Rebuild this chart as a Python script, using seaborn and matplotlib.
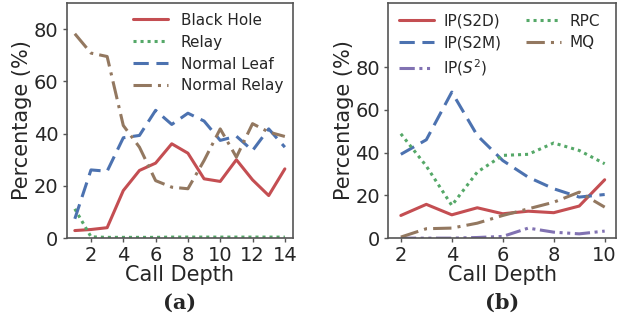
import numpy as np
import pandas as pd
import matplotlib
matplotlib.use("Agg")
import matplotlib.pyplot as plt
import seaborn as sns

# panel (a): share of each node type per call depth
depth_a = [1, 2, 3, 4, 5, 6, 7, 8, 9, 10, 11, 12, 13, 14]
black_hole = [2.9, 3.3, 4.0, 18.2, 25.9, 28.7, 36.1, 32.5, 22.7, 21.7, 30.0, 22.3, 16.3, 26.5]
relay = [11.2, 0.5, 0.3, 0.3, 0.3, 0.3, 0.4, 0.4, 0.4, 0.4, 0.4, 0.4, 0.4, 0.4]
normal_leaf = [7.4, 26.1, 25.6, 38.4, 39.3, 48.9, 43.5, 47.8, 44.8, 37.4, 39.0, 33.5, 41.8, 34.8]
normal_relay = [78.2, 70.8, 69.5, 43.1, 34.8, 22.0, 19.5, 18.9, 29.7, 41.8, 31.0, 43.8, 40.6, 38.9]

# panel (b): communication type per call depth
depth_b = [2, 3, 4, 5, 6, 7, 8, 9, 10]
ip_s2d = [10.6, 15.8, 10.9, 14.2, 11.4, 12.6, 11.9, 15.0, 27.3]
ip_s2m = [39.2, 46.0, 68.3, 48.0, 36.3, 28.5, 23.1, 19.2, 20.4]
ip_s2 = [0.0, 0.0, 0.0, 0.3, 0.8, 4.7, 2.8, 2.0, 3.3]
rpc = [48.8, 33.7, 15.3, 30.9, 38.7, 39.2, 44.5, 41.0, 34.8]
mq = [0.5, 4.4, 4.7, 7.0, 10.6, 13.7, 16.8, 21.5, 14.5]

sns.set_style("ticks")
plt.rcParams["font.family"] = ["DejaVu Sans"]

red, green, blue, purple, brown = "#C44E52", "#55A868", "#4C72B0", "#8172B2", "#937860"
lw = 2.2

fig = plt.figure(figsize=(6.18, 3.24), dpi=100)
ax1 = fig.add_axes([0.108, 0.265, 0.366, 0.726])
ax2 = fig.add_axes([0.628, 0.265, 0.369, 0.726])

sns.lineplot(x=depth_a, y=black_hole, ax=ax1, color=red, lw=lw, label="Black Hole")
sns.lineplot(x=depth_a, y=relay, ax=ax1, color=green, lw=lw, ls=(0, (1, 1.3)), label="Relay")
sns.lineplot(x=depth_a, y=normal_leaf, ax=ax1, color=blue, lw=lw, ls=(0, (5, 2.5)), label="Normal Leaf")
sns.lineplot(x=depth_a, y=normal_relay, ax=ax1, color=brown, lw=lw, ls=(0, (6, 2, 1, 2)), label="Normal Relay")

sns.lineplot(x=depth_b, y=ip_s2d, ax=ax2, color=red, lw=lw, label="IP(S2D)")
sns.lineplot(x=depth_b, y=ip_s2m, ax=ax2, color=blue, lw=lw, ls=(0, (5, 2.5)), label="IP(S2M)")
sns.lineplot(x=depth_b, y=ip_s2, ax=ax2, color=purple, lw=lw, ls=(0, (5, 1.5, 1, 1.5, 1, 1.5)), label="IP($S^2$)")
sns.lineplot(x=depth_b, y=rpc, ax=ax2, color=green, lw=lw, ls=(0, (1, 1.3)), label="RPC")
sns.lineplot(x=depth_b, y=mq, ax=ax2, color=brown, lw=lw, ls=(0, (6, 2, 1, 2)), label="MQ")

ax1.set_xlim(0.5, 14.5)
ax1.set_ylim(0, 90)
ax1.set_xticks(range(2, 15, 2))
ax2.set_xlim(1.5, 10.45)
ax2.set_ylim(0, 110)
ax2.set_xticks(range(2, 11, 2))

for ax, tag in [(ax1, "(a)"), (ax2, "(b)")]:
    ax.set_yticks([0, 20, 40, 60, 80])
    ax.tick_params(labelsize=14, length=3, width=1, pad=3, color="#555555")
    ax.set_xlabel("Call Depth", fontsize=15, labelpad=0)
    ax.set_ylabel("Percentage (%)", fontsize=15, labelpad=1)
    for s in ax.spines.values():
        s.set_color("#555555")
        s.set_linewidth(1.2)
    ax.text(0.5, -0.275, tag, transform=ax.transAxes, ha="center", va="center",
            fontsize=15, fontweight="bold", family="DejaVu Serif")

ax1.legend(loc="upper right", frameon=False, fontsize=11, handlelength=2.3,
           labelspacing=0.45, borderaxespad=0.25, handletextpad=0.8)
ax2.legend(loc="upper left", ncol=2, frameon=False, fontsize=11, handlelength=2.3,
           labelspacing=0.45, borderaxespad=0.3, handletextpad=0.6, columnspacing=1.6)

fig.savefig("out.png", dpi=100)
